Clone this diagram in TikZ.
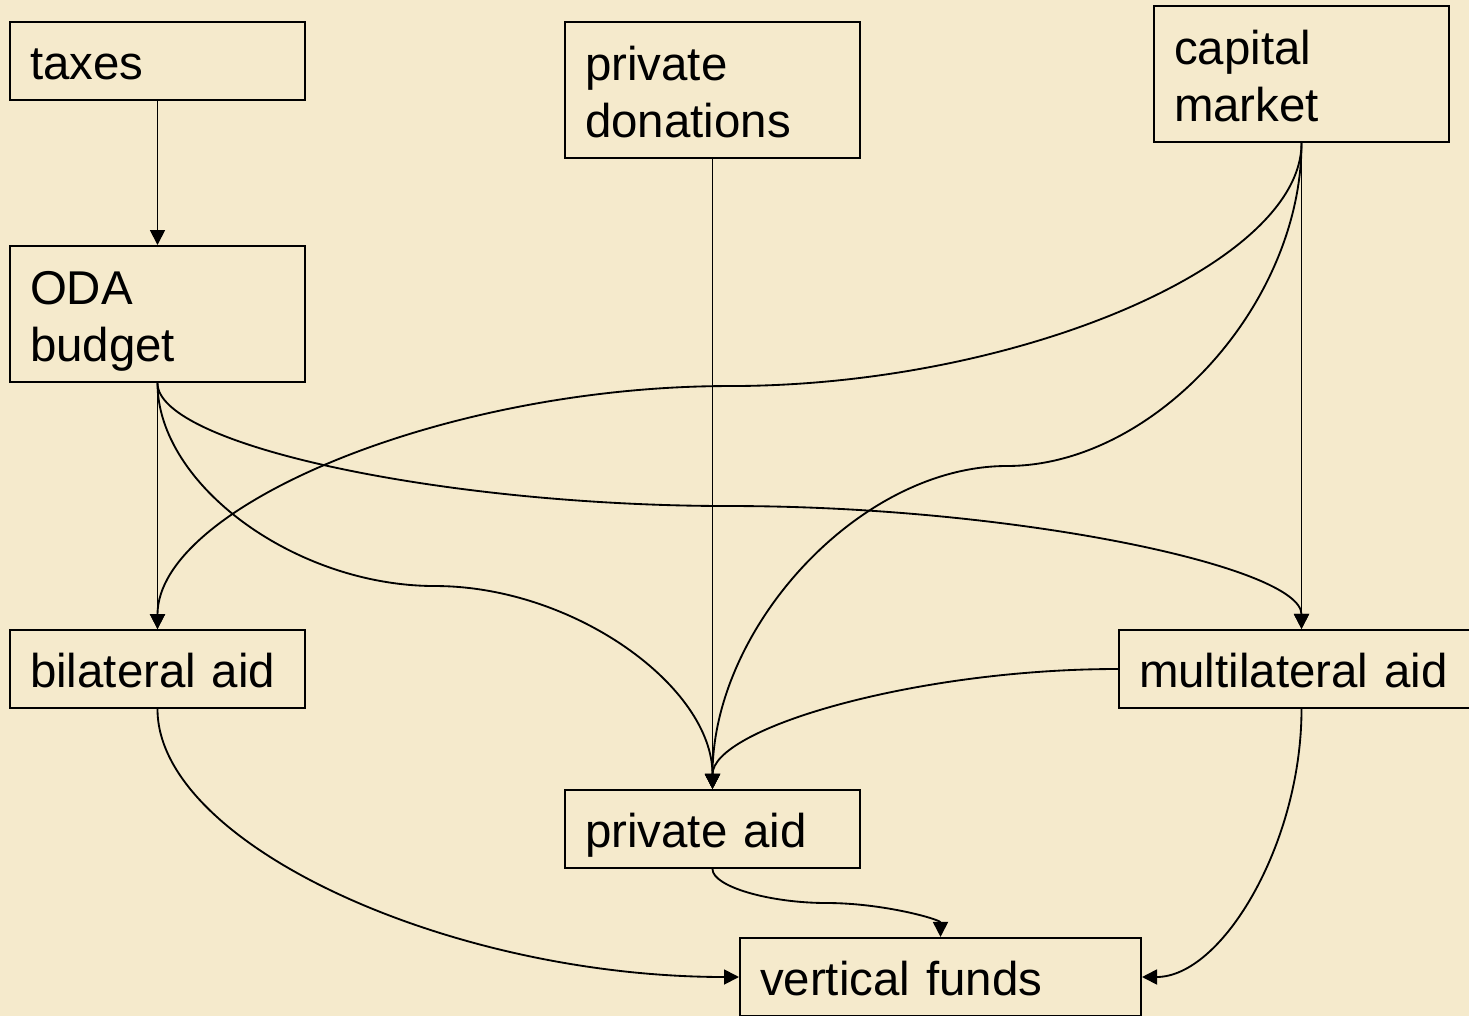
\documentclass[tikz,border=0pt]{standalone}
\usepackage{fontspec}
\setmainfont{Liberation Sans}
\usepackage{xcolor}
\usetikzlibrary{positioning,arrows.meta,calc}

\definecolor{paper}{HTML}{F5EACC}

\begin{document}
\begin{tikzpicture}[
    x=0.02cm,
    y=-0.02cm,
    box/.style={
        rectangle,
        draw,
        line width=1.2pt,
        align=left,
        text width=#1,
        inner xsep=0.4cm,
        inner ysep=0pt,
        minimum height=1.56cm,
        text height=21.3pt,
        text depth=0pt,
        font=\fontsize{27}{32.4}\selectfont
    },
    box/.default=5.1cm,
    twoline/.style={
        minimum height=2.72cm,
        text depth=32.4pt
    },
    arrow/.style={
        -{Triangle[length=0.3cm,width=0.3cm]},
        line width=1.05pt
    }
]

% Page
\useasboundingbox (0,0) rectangle (1469,1016);
\clip (0,0) rectangle (1469,1016);
\fill[paper] (0,0) rectangle (1469,1016);

% Sources
\node[box] (taxes) at (157.5,61)
{taxes};

\node[box, twoline] (donations) at (712.5,90)
{private\\
donations};

\node[box, twoline] (capital) at (1301.5,74)
{capital\\
market};

% Budget
\node[box, twoline, below=2.88cm of taxes] (oda)
{ODA\\
budget};

% Channels
\node[box, below=4.92cm of oda] (bilateral)
{bilateral aid};

\node[box=6.5cm] (multilateral) at (1301.5,669)
{multilateral aid};

\node[box] (privateaid) at (712.5,829)
{private aid};

% Funds
\node[box=7.22cm] (vertical) at (940.5,977)
{vertical funds};

% Connections
\draw[arrow] (taxes) -- (oda);

\draw[arrow] (oda) -- (bilateral);

\draw[arrow] (donations) -- (privateaid);

\draw[arrow] (capital) -- (multilateral);

\draw[arrow] (oda.south) .. controls +(0,102) and +(-139,0) .. ($(oda.south)!0.5!(privateaid.north)$)
    .. controls +(139,0) and +(0,-102) .. (privateaid.north);

\draw[arrow] (oda.south) .. controls +(0,62) and +(-286,0) .. ($(oda.south)!0.5!(multilateral.north)$)
    .. controls +(286,0) and +(0,-62) .. (multilateral.north);

\draw[arrow] (capital.south) .. controls +(0,122) and +(286,0) .. ($(capital.south)!0.5!(bilateral.north)$)
    .. controls +(-286,0) and +(0,-122) .. (bilateral.north);

\draw[arrow] (capital.south) .. controls +(0,162) and +(147,0) .. ($(capital.south)!0.5!(privateaid.north)$)
    .. controls +(-147,0) and +(0,-162) .. (privateaid.north);

\draw[arrow] (multilateral.west) .. controls +(-203,0) and +(0,-60.5) .. (privateaid.north);

\draw[arrow] (bilateral.south) .. controls +(0,134.5) and +(-291,0) .. (vertical.west);

\draw[arrow] (privateaid.south) .. controls +(0,17.5) and +(-57,0) .. ($(privateaid.south)!0.5!(vertical.north)$)
    .. controls +(57,0) and +(0,-17.5) .. (vertical.north);

\draw[arrow] (multilateral.south) .. controls +(0,134.5) and +(80,0) .. (vertical.east);

\end{tikzpicture}
\end{document}
